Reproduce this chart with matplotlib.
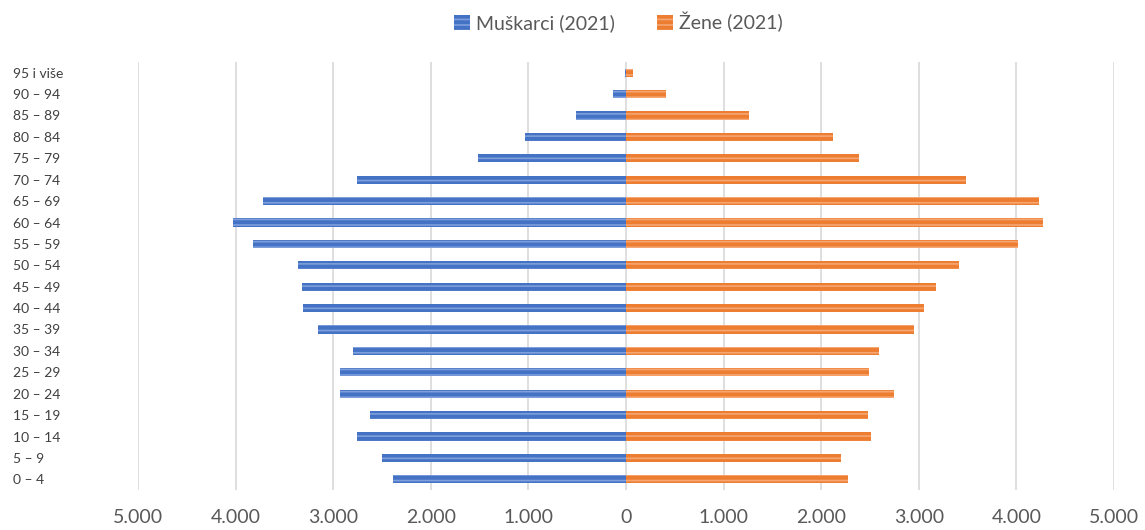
import matplotlib.pyplot as plt
import numpy as np
from matplotlib.ticker import FuncFormatter
from matplotlib.patches import Patch

plt.rcParams['font.family'] = ['Lato', 'DejaVu Sans']
plt.rcParams['hatch.linewidth'] = 1.2

# dobne skupine, od najmlađe prema najstarijoj
dobne_skupine = ["0 – 4", "5 – 9", "10 – 14", "15 – 19", "20 – 24", "25 – 29",
                 "30 – 34", "35 – 39", "40 – 44", "45 – 49", "50 – 54", "55 – 59",
                 "60 – 64", "65 – 69", "70 – 74", "75 – 79", "80 – 84", "85 – 89",
                 "90 – 94", "95 i više"]
muskarci = [2385, 2505, 2760, 2624, 2931, 2931, 2794, 3153, 3306, 3323,
            3357, 3818, 4022, 3716, 2760, 1515, 1038, 509, 133, 14]
zene = [2272, 2204, 2511, 2477, 2749, 2493, 2596, 2954, 3056, 3176,
        3414, 4012, 4268, 4233, 3483, 2391, 2118, 1265, 412, 71]
x_ticks = [-5000, -4000, -3000, -2000, -1000, 0, 1000, 2000, 3000, 4000, 5000]

plava, plava_svijetla = "#4472C4", "#7E9FDB"
narancasta, narancasta_svijetla = "#ED7D31", "#F5A673"

fig = plt.figure(figsize=(11.45, 5.3), dpi=100)
ax = fig.add_axes([138 / 1145, 40 / 530, 976 / 1145, 428 / 530])

y = np.arange(len(dobne_skupine))
ax.barh(y, -np.array(muskarci), height=0.38, color=plava, edgecolor=plava_svijetla,
        linewidth=0, hatch="---", zorder=3)
ax.barh(y, zene, height=0.38, color=narancasta, edgecolor=narancasta_svijetla,
        linewidth=0, hatch="---", zorder=3)

ax.set_xlim(-5000, 5000)
ax.set_ylim(-0.5, len(dobne_skupine) - 0.5)
ax.set_xticks(x_ticks)
ax.xaxis.set_major_formatter(FuncFormatter(lambda v, p: f"{abs(int(v)):,}".replace(",", ".")))
ax.grid(axis="x", color="#D9D9D9", linewidth=1.2, zorder=0)
ax.tick_params(axis="x", length=0, pad=14, labelsize=14, labelcolor="#595959")

ax.set_yticks(y)
ax.set_yticklabels(dobne_skupine)
ax.tick_params(axis="y", length=0, pad=90, labelsize=10, labelcolor="#404040")
for lab in ax.get_yticklabels():
    lab.set_horizontalalignment("left")

for s in ax.spines.values():
    s.set_visible(False)

handles = [Patch(facecolor=plava, edgecolor=plava_svijetla, hatch="---", linewidth=0),
           Patch(facecolor=narancasta, edgecolor=narancasta_svijetla, hatch="---", linewidth=0)]
fig.legend(handles, ["Muškarci (2021)", "Žene (2021)"], loc="center",
           bbox_to_anchor=(0.54, 0.958), ncol=2, frameon=False, fontsize=14,
           labelcolor="#595959", handlelength=0.8, handleheight=0.8,
           handletextpad=0.3, columnspacing=2.2)

fig.savefig("out.png", dpi=100)
